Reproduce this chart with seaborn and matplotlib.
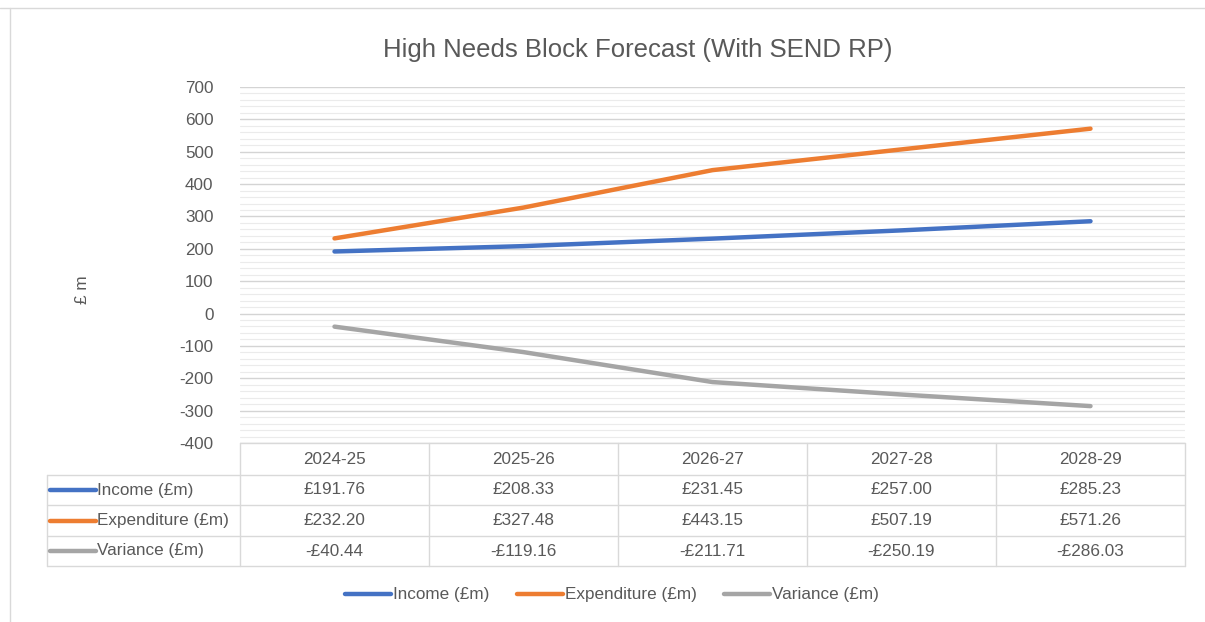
import numpy as np
import pandas as pd
import seaborn as sns
import matplotlib.pyplot as plt
from matplotlib.lines import Line2D
from matplotlib.ticker import MultipleLocator

# data
years = ["2024-25", "2025-26", "2026-27", "2027-28", "2028-29"]
income = [191.76, 208.33, 231.45, 257.00, 285.23]
expenditure = [232.20, 327.48, 443.15, 507.19, 571.26]
variance = [-40.44, -119.16, -211.71, -250.19, -286.03]
series_names = ["Income (£m)", "Expenditure (£m)", "Variance (£m)"]
colours = ["#4472C4", "#ED7D31", "#A5A5A5"]

df = pd.DataFrame({
    "year": years * 3,
    "value": income + expenditure + variance,
    "series": np.repeat(series_names, len(years)),
})

sns.set_style("white")
plt.rcParams["font.family"] = ["Liberation Sans", "DejaVu Sans"]
plt.rcParams["axes.unicode_minus"] = False
text_col = "#595959"
line_col = "#D9D9D9"
fs = 12.3

W, H = 1205, 622
fig = plt.figure(figsize=(W / 100, H / 100), dpi=100)

# plot area in pixels: x 240..1185, y 87..443
ax = fig.add_axes([240 / W, 1 - 443 / H, 945 / W, 356 / H])
sns.lineplot(data=df, x="year", y="value", hue="series",
             palette=dict(zip(series_names, colours)), linewidth=3.2,
             sort=False, legend=False, ax=ax)

ax.set_xlim(-0.5, 4.5)
ax.set_ylim(-400, 700)
ax.yaxis.set_major_locator(MultipleLocator(100))
ax.yaxis.set_minor_locator(MultipleLocator(20))
ax.grid(which="major", axis="y", color="#D4D4D4", lw=1)
ax.grid(which="minor", axis="y", color="#EBEBEB", lw=0.8)
ax.grid(which="major", axis="x", visible=False)
ax.set_axisbelow(True)
for s in ax.spines.values():
    s.set_visible(False)
ax.tick_params(axis="y", which="both", length=0, pad=19, labelsize=fs, labelcolor=text_col)
ax.set_xticks([])
ax.set_xlabel("")
ax.set_ylabel("£ m", fontsize=fs, color=text_col)
ax.yaxis.set_label_coords((90 - 240) / 945, (443 - 290) / 356)

# data table below the plot
def ay(py):
    return (443 - py) / 356

def fmt(v):
    return f"-£{abs(v):.2f}" if v < 0 else f"£{v:.2f}"

left = (47 - 240) / 945
rows_px = [443, 475, 505, 536, 566]
ax.add_line(Line2D([0, 1], [ay(443)] * 2, transform=ax.transAxes, color=line_col, lw=1, clip_on=False))
for py in rows_px[1:]:
    ax.add_line(Line2D([left, 1], [ay(py)] * 2, transform=ax.transAxes, color=line_col, lw=1, clip_on=False))
for k in range(len(years) + 1):
    ax.add_line(Line2D([k / 5] * 2, [ay(443), ay(566)], transform=ax.transAxes, color=line_col, lw=1, clip_on=False))
ax.add_line(Line2D([left] * 2, [ay(475), ay(566)], transform=ax.transAxes, color=line_col, lw=1, clip_on=False))

for k, yr in enumerate(years):
    ax.text((k + 0.5) / 5, ay(459), yr, transform=ax.transAxes, ha="center", va="center",
            fontsize=fs, color=text_col)

for r, (name, col, vals) in enumerate(zip(series_names, colours, [income, expenditure, variance])):
    yc = ay((rows_px[r + 1] + rows_px[r + 2]) / 2)
    ax.add_line(Line2D([(50 - 240) / 945, (96 - 240) / 945], [yc, yc], transform=ax.transAxes,
                       color=col, lw=3.2, clip_on=False))
    ax.text((97 - 240) / 945, yc, name, transform=ax.transAxes, ha="left", va="center",
            fontsize=fs, color=text_col)
    for k, v in enumerate(vals):
        ax.text((k + 0.5) / 5, yc, fmt(v), transform=ax.transAxes, ha="center", va="center",
                fontsize=fs, color=text_col)

# legend
handles = [Line2D([], [], color=c, lw=3.2) for c in colours]
fig.legend(handles, series_names, loc="center", bbox_to_anchor=(612 / W, 1 - 595 / H),
           ncol=3, frameon=False, fontsize=fs, handlelength=2.7, handletextpad=0.1,
           columnspacing=1.6, labelcolor=text_col)

fig.text(638 / W, 1 - 50 / H, "High Needs Block Forecast (With SEND RP)", ha="center", va="center",
         fontsize=18.5, color=text_col)

# chart border lines (top and left edge)
fig.add_artist(Line2D([0, 1], [1 - 8 / H] * 2, transform=fig.transFigure, color=line_col, lw=1))
fig.add_artist(Line2D([10 / W] * 2, [0, 1 - 8 / H], transform=fig.transFigure, color=line_col, lw=1))

fig.savefig("out.png", dpi=100)
